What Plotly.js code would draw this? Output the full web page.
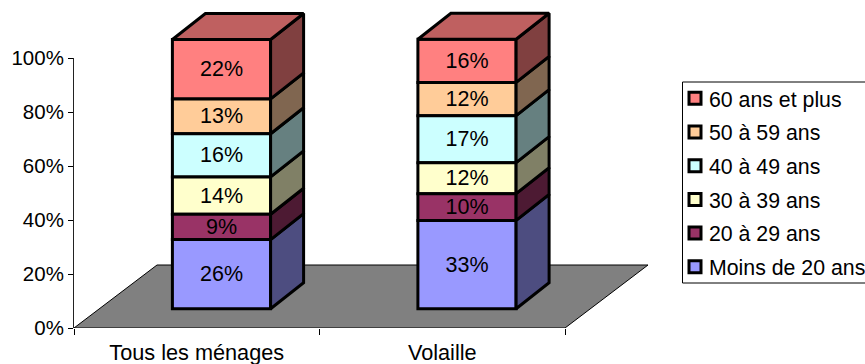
<!DOCTYPE html>
<html><head><meta charset="utf-8">
<script src="https://cdn.plot.ly/plotly-3.0.1.min.js"></script>
<style>html,body{margin:0;padding:0;background:#fff;overflow:hidden}</style>
</head><body><div id="chart" style="width:865px;height:364px"></div>
<script>
// Data
var categories = ["Tous les ménages", "Volaille"];
var groups = ["Moins de 20 ans", "20 à 29 ans", "30 à 39 ans", "40 à 49 ans", "50 à 59 ans", "60 ans et plus"];
var tousLesMenages = [25.6, 9.4, 13.8, 16.0, 12.9, 22.0];
var volaille = [32.7, 9.9, 11.5, 17.4, 12.3, 16.0];
var frontColors = ["#9999FF", "#993366", "#FFFFCC", "#CCFFFF", "#FFCC99", "#FF8080"];
var sideColors = ["#4D4D80", "#4D1A33", "#808066", "#668080", "#806650", "#804040"];
var topColor = "#BF6060";
var floorColor = "#808080";
var yTicks = [0, 20, 40, 60, 80, 100];
var yTickText = ["0%", "20%", "40%", "60%", "80%", "100%"];

// Geometry in axis units
var L = 74, PW = 600, T = 8, PH = 320, UX = 245.5, UY = 2.7;
var barOffset = 0.6008, barWidth = 0.4, lift = 7.15;
var depthX = 33 / UX, depthY = 26 / UY, floorX = 83 / UX, floorY = 63 / UY;
var fontName = '"Liberation Sans", Arial, sans-serif';
var series = [tousLesMenages, volaille];
var traces = [];

for (var k = groups.length - 1; k >= 0; k--) {
  (function (i) {
    var g = groups[i];
    var bases = series.map(function (s) {
      return lift + s.slice(0, i).reduce(function (a, b) { return a + b; }, 0);
    });
    var vals = series.map(function (s) { return s[i]; });
    traces.push({
      type: "bar", name: g, legendgroup: g,
      x: categories.map(function (_, c) { return c + barOffset; }),
      y: vals, base: bases, width: barWidth,
      text: vals.map(function (v) { return Math.round(v) + "%"; }),
      textposition: "inside", insidetextanchor: "middle", textangle: 0,
      constraintext: "none",
      insidetextfont: { family: fontName, size: 21.5, color: "#000" },
      marker: { color: frontColors[i], line: { color: "#000", width: 3 } },
      hoverinfo: "name+text"
    });
  })(k);
}

groups.forEach(function (g, i) {
  var xs = [], ys = [];
  series.forEach(function (s, c) {
    var b0 = lift + s.slice(0, i).reduce(function (a, b) { return a + b; }, 0);
    var b1 = b0 + s[i];
    var r = c + barOffset + barWidth / 2;
    xs.push(r, r + depthX, r + depthX, r, r, null);
    ys.push(b0, b0 + depthY, b1 + depthY, b1, b0, null);
  });
  traces.push({
    type: "scatter", mode: "lines", x: xs, y: ys, fill: "toself",
    fillcolor: sideColors[i], line: { color: "#000", width: 3 },
    showlegend: false, hoverinfo: "skip"
  });
});

var tx = [], ty = [];
series.forEach(function (s, c) {
  var top = lift + s.reduce(function (a, b) { return a + b; }, 0);
  var l = c + barOffset - barWidth / 2, r = l + barWidth;
  tx.push(l, r, r + depthX, l + depthX, l, null);
  ty.push(top, top, top + depthY, top + depthY, top, null);
});
traces.push({
  type: "scatter", mode: "lines", x: tx, y: ty, fill: "toself",
  fillcolor: topColor, line: { color: "#000", width: 3 },
  showlegend: false, hoverinfo: "skip"
});

// Empty trace so that the percentage axis (y2, spanning 0-100 only) is drawn
traces.push({
  type: "scatter", mode: "markers", x: [0], y: [0], yaxis: "y2",
  marker: { opacity: 0, size: 1 }, showlegend: false, hoverinfo: "skip"
});

function px(x) { return (x - L) / PW; }
function py(y) { return (T + PH - y) / PH; }
var n = categories.length;

var layout = {
  width: 865, height: 364,
  margin: { l: L, r: 865 - L - PW, t: T, b: 364 - T - PH, autoexpand: false },
  paper_bgcolor: "#fff", plot_bgcolor: "rgba(0,0,0,0)",
  barmode: "overlay", showlegend: true,
  font: { family: fontName, size: 21, color: "#000" },
  xaxis: {
    range: [0, PW / UX], showgrid: false, zeroline: false, showline: false,
    tickmode: "array",
    tickvals: categories.map(function (_, c) { return c + 0.5; }),
    ticktext: categories, ticks: "", ticklabelstandoff: 9,
    tickfont: { family: fontName, size: 21.7 },
    minor: { tickmode: "array", tickvals: [0, 1, 2], ticks: "outside", ticklen: 6, tickcolor: "#000", tickwidth: 1, showgrid: false }
  },
  yaxis: {
    range: [0, PH / UY], showgrid: false, zeroline: false, showline: false,
    showticklabels: false, ticks: ""
  },
  yaxis2: {
    domain: [0, 100 * UY / PH], range: [0, 100], anchor: "x", side: "left",
    showgrid: false, zeroline: false, showline: true, linecolor: "#222", linewidth: 1,
    tickmode: "array", tickvals: yTicks, ticktext: yTickText,
    ticks: "outside", ticklen: 5, tickcolor: "#000", tickwidth: 1,
    tickfont: { family: fontName, size: 20.5 }
  },
  legend: {
    x: px(669), xanchor: "left", xref: "paper", y: py(78), yanchor: "top", yref: "paper",
    traceorder: "grouped", tracegroupgap: 3,
    bgcolor: "rgba(0,0,0,0)", borderwidth: 0, itemwidth: 30, itemclick: false,
    font: { family: fontName, size: 21.3, color: "#000" }
  },
  shapes: [
    { type: "path", xref: "x", yref: "y", layer: "below",
      path: "M0,0L" + n + ",0L" + (n + floorX) + "," + floorY + "L" + floorX + "," + floorY + "Z",
      fillcolor: floorColor, line: { color: "#000", width: 1 } },
    { type: "rect", xref: "paper", yref: "paper", x0: px(682.5), x1: px(875), y0: py(82), y1: py(283), layer: "below",
      fillcolor: "#fff", line: { color: "#000", width: 1 } }
  ]
};

Plotly.newPlot("chart", traces, layout, { displayModeBar: false }).then(function () {
  document.querySelectorAll("#chart .legendsymbols").forEach(function (el) {
    el.setAttribute("transform", "translate(6,0)");
  });
});
</script></body></html>
